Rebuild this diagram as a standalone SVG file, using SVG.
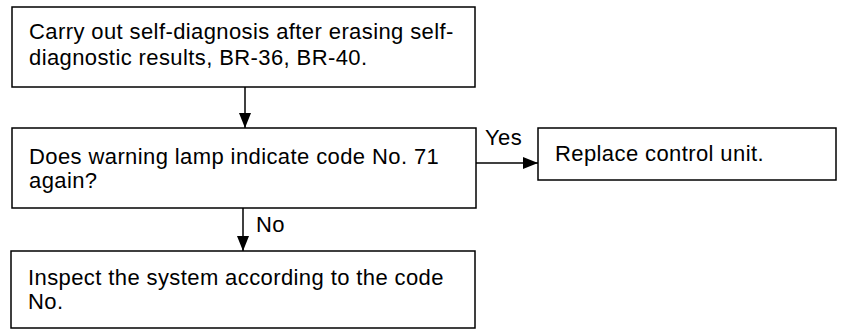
<svg xmlns="http://www.w3.org/2000/svg" width="850" height="330" viewBox="0 0 850 330">
<style>
.box{fill:#fff;stroke:#000;stroke-width:1.5}
.t{font-family:"Liberation Sans",Arial,sans-serif;font-size:22px;letter-spacing:0.4px;fill:#000}
.c{stroke:#000;stroke-width:1.5;fill:none}
</style>
<defs>
<marker id="ah" markerWidth="15" markerHeight="12" refX="15" refY="6" orient="auto" markerUnits="userSpaceOnUse">
<path d="M0,0 L15,6 L0,12 Z" fill="#000"/>
</marker>
</defs>
<rect width="850" height="330" fill="#fff"/>
<g id="n1"><rect class="box" x="12" y="7" width="463" height="80"/>
<text class="t" x="29" y="39">Carry out self-diagnosis after erasing self-</text>
<text class="t" x="29" y="65">diagnostic results, BR-36, BR-40.</text></g>
<g id="n2"><rect class="box" x="12" y="128" width="464" height="80"/>
<text class="t" x="29" y="164">Does warning lamp indicate code No. 71</text>
<text class="t" x="29" y="188">again?</text></g>
<g id="n3"><rect class="box" x="538" y="128" width="298" height="52"/>
<text class="t" x="555" y="161">Replace control unit.</text></g>
<g id="n4"><rect class="box" x="11" y="251" width="464" height="77"/>
<text class="t" x="28" y="285">Inspect the system according to the code</text>
<text class="t" x="28" y="309">No.</text></g>
<g id="connectors">
<line class="c" x1="245" y1="87" x2="245" y2="128" marker-end="url(#ah)"/>
<line class="c" x1="476" y1="163" x2="538" y2="163" marker-end="url(#ah)"/>
<line class="c" x1="243" y1="208" x2="243" y2="251" marker-end="url(#ah)"/>
<text class="t" x="485" y="145">Yes</text>
<text class="t" x="256" y="232">No</text>
</g>
</svg>
